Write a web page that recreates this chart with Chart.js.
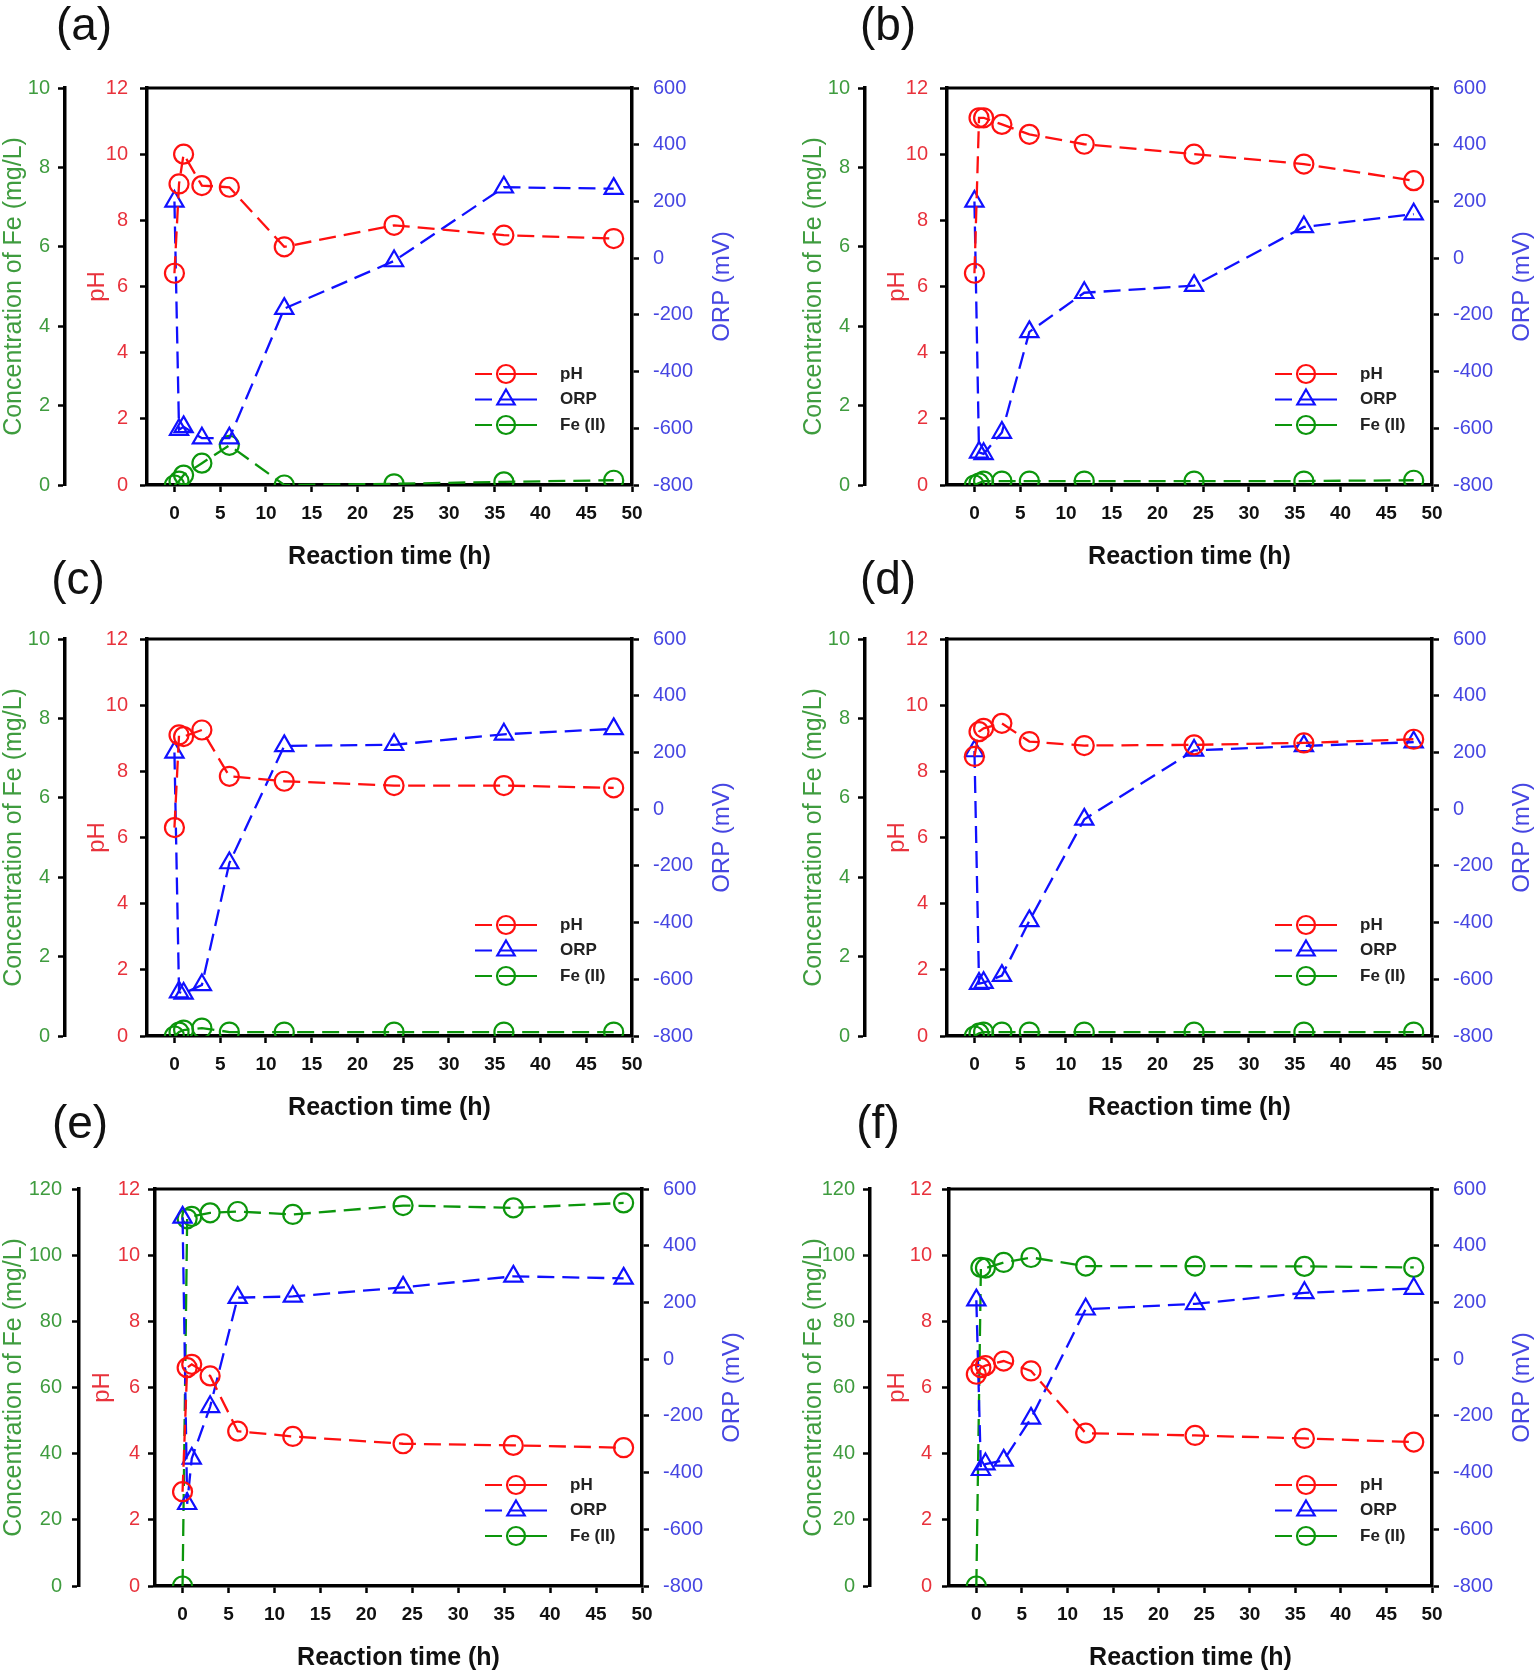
<!DOCTYPE html>
<html>
<head>
<meta charset="utf-8">
<script src="https://cdn.jsdelivr.net/npm/chart.js@4.4.0/dist/chart.umd.min.js"></script>
<style>
  html, body { margin: 0; padding: 0; background: #fff; width: 1536px; height: 1672px; overflow: hidden; }
  canvas { position: absolute; }
  .tag { position: absolute; font-family: "Liberation Sans", Arial, sans-serif; font-size: 46px; color: #111;
         transform: translate(-50%, -50%); line-height: 1; }
</style>
</head>
<body>
<script>
// sampling times (h)
const times = [0, 0.5, 1, 3, 6, 12, 24, 36, 48];
const xTicks = [0, 5, 10, 15, 20, 25, 30, 35, 40, 45, 50];

// (a)
const phA  = [6.4, 9.1, 10.0, 9.05, 9.0, 7.2, 7.85, 7.55, 7.45];
const orpA = [200, -605, -595, -635, -635, -178, -10, 250, 245];
const feA  = [0, 0.1, 0.25, 0.55, 1.0, 0, 0.03, 0.08, 0.12];
// (b)
const phB  = [6.4, 11.1, 11.1, 10.9, 10.6, 10.3, 10.0, 9.7, 9.2];
const orpB = [200, -685, -690, -615, -260, -122, -97, 110, 155];
const feB  = [0, 0.05, 0.1, 0.1, 0.1, 0.1, 0.1, 0.1, 0.12];
// (c)
const phC  = [6.3, 9.1, 9.05, 9.25, 7.85, 7.7, 7.57, 7.57, 7.5];
const orpC = [200, -645, -650, -620, -190, 223, 227, 264, 283];
const feC  = [0, 0.1, 0.15, 0.2, 0.1, 0.1, 0.1, 0.1, 0.1];
// (d)
const phD  = [8.45, 9.2, 9.3, 9.45, 8.9, 8.78, 8.8, 8.86, 8.97];
const orpD = [205, -615, -612, -587, -394, -36, 207, 223, 236];
const feD  = [0, 0.07, 0.1, 0.1, 0.1, 0.1, 0.1, 0.1, 0.1];
// (e)
const phE  = [2.85, 6.6, 6.7, 6.35, 4.68, 4.52, 4.3, 4.25, 4.18];
const orpE = [500, -510, -350, -168, 217, 221, 253, 292, 285];
const feE  = [0, 111, 111.7, 112.8, 113.2, 112.3, 115, 114.3, 115.8];
// (f)
const phF  = [6.4, 6.6, 6.66, 6.8, 6.5, 4.62, 4.55, 4.46, 4.35];
const orpF = [208, -390, -370, -357, -209, 176, 195, 234, 249];
const feF  = [0, 96.3, 96.1, 97.8, 99.3, 96.7, 96.7, 96.6, 96.3];

const panels = [
  { tag: '(a)', ph: phA, orp: orpA, fe: feA, feMax: 10, feStep: 2 },
  { tag: '(b)', ph: phB, orp: orpB, fe: feB, feMax: 10, feStep: 2 },
  { tag: '(c)', ph: phC, orp: orpC, fe: feC, feMax: 10, feStep: 2 },
  { tag: '(d)', ph: phD, orp: orpD, fe: feD, feMax: 10, feStep: 2 },
  { tag: '(e)', ph: phE, orp: orpE, fe: feE, feMax: 120, feStep: 20 },
  { tag: '(f)', ph: phF, orp: orpF, fe: feF, feMax: 120, feStep: 20 }
];

// page placement of each panel
const layouts = [
  { left: 0,   top: 0,    w: 740, feW: 65, phW: 82, feTickPad: 8,  phTickPad: 12, phTitlePad: 19, legendY: 111, tagX: 84,  tagY: 24 },
  { left: 800, top: 0,    w: 740, feW: 65, phW: 82, feTickPad: 8,  phTickPad: 12, phTitlePad: 19, legendY: 111, tagX: 888, tagY: 24 },
  { left: 0,   top: 551,  w: 740, feW: 65, phW: 82, feTickPad: 8,  phTickPad: 12, phTitlePad: 19, legendY: 111, tagX: 78,  tagY: 578 },
  { left: 800, top: 551,  w: 740, feW: 65, phW: 82, feTickPad: 8,  phTickPad: 12, phTitlePad: 19, legendY: 111, tagX: 888, tagY: 578 },
  { left: 0,   top: 1101, w: 750, feW: 79, phW: 76, feTickPad: 10, phTickPad: 8,  phTitlePad: 10, legendY: 101, tagX: 80,  tagY: 1122 },
  { left: 800, top: 1101, w: 740, feW: 70, phW: 79, feTickPad: 8,  phTickPad: 10, phTitlePad: 14, legendY: 101, tagX: 878, tagY: 1122 }
];

const RED = '#ff1010', BLUE = '#1010ff', GREEN = '#0c960c';
const RED_T = '#e8323c', BLUE_T = '#4646e2', GREEN_T = '#3f9c3f';
const FONT = '"Liberation Sans", Arial, sans-serif';
Chart.defaults.font.family = FONT;

const framePlugin = {
  id: 'frameTop',
  afterDraw(chart) {
    const a = chart.chartArea, ctx = chart.ctx;
    ctx.save();
    ctx.strokeStyle = '#000';
    ctx.lineWidth = 3;
    ctx.beginPath();
    ctx.moveTo(a.left - 1.5, a.top);
    ctx.lineTo(a.right + 1.5, a.top);
    ctx.stroke();
    // rotated ORP title on the right axis, reading bottom to top
    const s = chart.scales.yORP;
    ctx.translate(s.right - 18, (a.top + a.bottom) / 2);
    ctx.rotate(-Math.PI / 2);
    ctx.font = '24px ' + FONT;
    ctx.fillStyle = BLUE_T;
    ctx.textAlign = 'center';
    ctx.textBaseline = 'middle';
    ctx.fillText('ORP (mV)', 0, 0);
    ctx.restore();
  }
};

function legendPlugin(L) {
  return {
    id: 'innerLegend',
    afterDraw(chart) {
      const a = chart.chartArea, ctx = chart.ctx;
      const x0 = a.right - 157, x1 = a.right - 95, mx = a.right - 126, tx = a.right - 72;
      ctx.save();
      chart.data.datasets.forEach((ds, i) => {
        const y = a.bottom - L.legendY + i * 25.5;
        ctx.strokeStyle = ds.borderColor;
        ctx.lineWidth = 2.2;
        ctx.beginPath();
        ctx.moveTo(x0, y); ctx.lineTo(x0 + 17, y);
        ctx.moveTo(x0 + 24, y); ctx.lineTo(x1, y);
        ctx.stroke();
        ctx.beginPath();
        if (ds.pointStyle === 'triangle') {
          ctx.moveTo(mx, y - 10);
          ctx.lineTo(mx + 8.7, y + 5);
          ctx.lineTo(mx - 8.7, y + 5);
          ctx.closePath();
        } else {
          ctx.arc(mx, y, 9, 0, Math.PI * 2);
        }
        ctx.stroke();
        ctx.fillStyle = '#222';
        ctx.font = 'bold 17px ' + FONT;
        ctx.textAlign = 'left';
        ctx.textBaseline = 'middle';
        ctx.fillText(ds.label, tx, y);
      });
      ctx.restore();
    }
  };
}

function series(label, vals, color, axis, style) {
  return {
    label: label,
    data: times.map((t, i) => ({ x: t, y: vals[i] })),
    yAxisID: axis,
    borderColor: color,
    borderWidth: 2.3,
    borderDash: [17, 8],
    pointStyle: style,
    pointRadius: style === 'triangle' ? 10.5 : 9.5,
    pointBorderWidth: 2.2,
    pointBorderColor: color,
    pointBackgroundColor: 'rgba(0,0,0,0)',
    tension: 0
  };
}

const axisGrid = { drawOnChartArea: false, tickLength: 7, tickWidth: 2.5, tickColor: '#000' };
const axisBorder = { display: true, color: '#000', width: 3.5 };

panels.forEach((p, k) => {
  const L = layouts[k];
  const cv = document.createElement('canvas');
  cv.width = L.w; cv.height = 580;
  cv.style.left = L.left + 'px'; cv.style.top = L.top + 'px';
  document.body.appendChild(cv);

  const tag = document.createElement('div');
  tag.className = 'tag';
  tag.textContent = p.tag;
  tag.style.left = L.tagX + 'px'; tag.style.top = L.tagY + 'px';
  document.body.appendChild(tag);

  new Chart(cv, {
    type: 'line',
    data: {
      datasets: [
        series('pH', p.ph, RED, 'yPH', 'circle'),
        series('ORP', p.orp, BLUE, 'yORP', 'triangle'),
        series('Fe (II)', p.fe, GREEN, 'yFe', 'circle')
      ]
    },
    options: {
      responsive: false,
      animation: false,
      layout: { padding: { top: 88, left: 0, right: 0, bottom: 0 } },
      plugins: { legend: { display: false }, tooltip: { enabled: false } },
      scales: {
        x: {
          type: 'linear', position: 'bottom', min: -3, max: 50,
          afterBuildTicks: s => { s.ticks = xTicks.map(v => ({ value: v })); },
          afterFit: s => { s.height = 95; },
          grid: axisGrid, border: axisBorder,
          ticks: { color: '#111', font: { size: 19, weight: 'bold' }, padding: 10, maxRotation: 0, autoSkip: false },
          title: { display: true, text: 'Reaction time (h)', color: '#111', font: { size: 25, weight: 'bold' }, padding: { top: 0, bottom: 8 } }
        },
        yFe: {
          type: 'linear', position: 'left', weight: 2, min: 0, max: p.feMax,
          afterFit: s => { s.width = L.feW; },
          grid: axisGrid, border: axisBorder,
          ticks: { stepSize: p.feStep, color: GREEN_T, font: { size: 20 }, padding: L.feTickPad },
          title: { display: true, text: 'Concentration of Fe (mg/L)', color: GREEN_T, font: { size: 25 }, padding: { top: -1, bottom: 0 } }
        },
        yPH: {
          type: 'linear', position: 'left', weight: 1, min: 0, max: 12,
          afterFit: s => { s.width = L.phW; },
          grid: axisGrid, border: axisBorder,
          ticks: { stepSize: 2, color: RED_T, font: { size: 20 }, padding: L.phTickPad },
          title: { display: true, text: 'pH', color: RED_T, font: { size: 24 }, padding: { top: L.phTitlePad - 1, bottom: 0 } }
        },
        yORP: {
          type: 'linear', position: 'right', min: -800, max: 600,
          afterFit: s => { s.width = 108; },
          grid: axisGrid, border: axisBorder,
          ticks: { stepSize: 200, color: BLUE_T, font: { size: 20 }, padding: 14 }
        }
      }
    },
    plugins: [framePlugin, legendPlugin(L)]
  });
});
</script>
</body>
</html>
